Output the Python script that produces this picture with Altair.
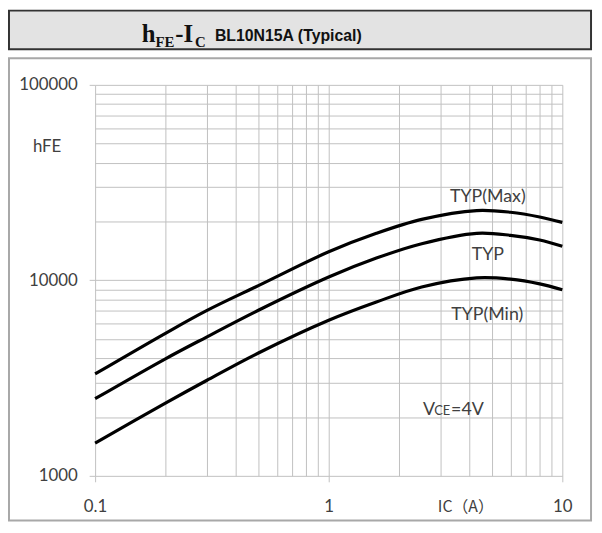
import altair as alt
import pandas as pd

# ---- data ----
ic = [0.1, 0.2, 0.3, 0.5, 1.0, 1.6, 2.5, 4.3, 6.0, 8.0, 10.0]
hfe_max = [3320, 5360, 7000, 9400, 14000, 17400, 20500, 22750, 22300, 21100, 19800]
hfe_typ = [2480, 3970, 5130, 7030, 10400, 13000, 15400, 17400, 17000, 16100, 14950]
hfe_min = [1470, 2355, 3075, 4250, 6250, 7750, 9250, 10300, 10150, 9600, 8950]

x_ticks = [0.1, 0.2, 0.3, 0.4, 0.5, 0.6, 0.7, 0.8, 0.9,
           1, 2, 3, 4, 5, 6, 7, 8, 9, 10]
y_ticks = [1000, 2000, 3000, 4000, 5000, 6000, 7000, 8000, 9000,
           10000, 20000, 30000, 40000, 50000, 60000, 70000, 80000, 90000, 100000]

curve_labels = ["TYP(Max)", "TYP", "TYP(Min)"]
label_ic = [4.8, 4.8, 4.77]
label_hfe = [26800, 13460, 6680]

rows = []
for name, vals in [("TYP(Max)", hfe_max), ("TYP", hfe_typ), ("TYP(Min)", hfe_min)]:
    for a, b in zip(ic, vals):
        rows.append({"IC": a, "hFE": b, "series": name})
df = pd.DataFrame(rows)
lab = pd.DataFrame({"IC": label_ic, "hFE": label_hfe, "text": curve_labels})
vce = pd.DataFrame({"IC": [2.53], "hFE": [2036]})

TXT = "#404040"
GRID = "#c0c0c0"
decade = "abs(log(datum.value)/LN10 - round(log(datum.value)/LN10)) < 0.001"

xscale = alt.Scale(type="log", domain=[0.1, 10])
yscale = alt.Scale(type="log", domain=[1000, 100000])

xaxis = alt.Axis(values=x_ticks, grid=True, gridColor=GRID, gridWidth=1,
                 domain=False, ticks=True, tickSize=6, tickColor=GRID,
                 tickOpacity={"condition": {"test": decade, "value": 1}, "value": 0},
                 labelExpr=f"{decade} ? format(datum.value, '') : ''",
                 labelOverlap=False, labelFlush=False, labelBound=False,
                 labelFont="Lato", labelFontSize=17, labelColor=TXT,
                 labelPadding=17,
                 title="IC（A）", titleFont="Noto Sans CJK SC", titleFontSize=16,
                 titleFontWeight="normal", titleColor=TXT,
                 titleX=374, titleY=31, titleAlign="center", titleBaseline="middle")
yaxis = alt.Axis(values=y_ticks, grid=True, gridColor=GRID, gridWidth=1,
                 domain=False, ticks=True, tickSize=6, tickColor=GRID,
                 tickOpacity={"condition": {"test": decade, "value": 1}, "value": 0},
                 labelExpr=f"{decade} ? format(datum.value, '') : ''",
                 labelOverlap=False, labelFlush=False, labelBound=False,
                 labelFont="Lato", labelFontSize=17, labelColor=TXT,
                 labelPadding=12,
                 title="hFE", titleFont="Lato", titleFontSize=17,
                 titleFontWeight="normal", titleColor=TXT, titleAngle=0,
                 titleX=-49, titleY=62, titleAlign="center", titleBaseline="middle")

X = alt.X("IC:Q", scale=xscale, axis=xaxis)
Y = alt.Y("hFE:Q", scale=yscale, axis=yaxis)

one = alt.Data(values=[{}])

# decorative boxes (pixel positions relative to plot origin)
title_box = alt.Chart(one).mark_rect(fill="#e3e3e3", stroke="#333333", strokeWidth=2).encode(
    x=alt.value(-87), x2=alt.value(501), y=alt.value(-75), y2=alt.value(-36))
chart_box = alt.Chart(one).mark_rect(fillOpacity=0, stroke="#a8a8a8", strokeWidth=2).encode(
    x=alt.value(-87), x2=alt.value(501), y=alt.value(-27), y2=alt.value(440))

lines = alt.Chart(df).mark_line(color="black", strokeWidth=3.2,
                                interpolate="catmull-rom").encode(
    x=X, y=Y, detail="series:N")

labels = alt.Chart(lab).mark_text(font="Lato", fontSize=18, color=TXT,
                                  align="center", baseline="middle").encode(
    x=X, y=Y, text="text:N")

def vpart(txt, size, dx):
    return alt.Chart(vce).mark_text(font="Lato", fontSize=size, color=TXT,
                                    align="left", baseline="alphabetic", dx=dx).encode(
        x=X, y=Y, text=alt.value(txt))

v1 = vpart("V", 18, 0)
v2 = vpart("CE", 13, 11.5)
v3 = vpart("=4V", 18, 28.5)

def tpart(txt, font, size, x, y, weight="bold"):
    return alt.Chart(one).mark_text(font=font, fontSize=size, fontWeight=weight,
                                    color="#111111", align="left",
                                    baseline="alphabetic").encode(
        x=alt.value(x), y=alt.value(y), text=alt.value(txt))

t1 = tpart("h", "Liberation Serif", 25, 143 - 96, -43)
t2 = tpart("FE", "Liberation Serif", 15, 157 - 96, -38)
t3 = tpart("-I", "Liberation Serif", 25, 177 - 96, -43)
t4 = tpart("C", "Liberation Serif", 15, 197 - 96, -38)
t5 = tpart("BL10N15A (Typical)", "Liberation Sans", 16, 217 - 96, -44)

chart = alt.layer(title_box, chart_box, lines, labels, v1, v2, v3,
                  t1, t2, t3, t4, t5).properties(
    width=472, height=395,
    autosize=alt.AutoSizeParams(type="none"),
    padding={"left": 88, "top": 75, "right": 32, "bottom": 48},
    background="white",
).configure_view(strokeWidth=0)

chart.save("out.html", embed_options={"renderer": "svg", "actions": False})
